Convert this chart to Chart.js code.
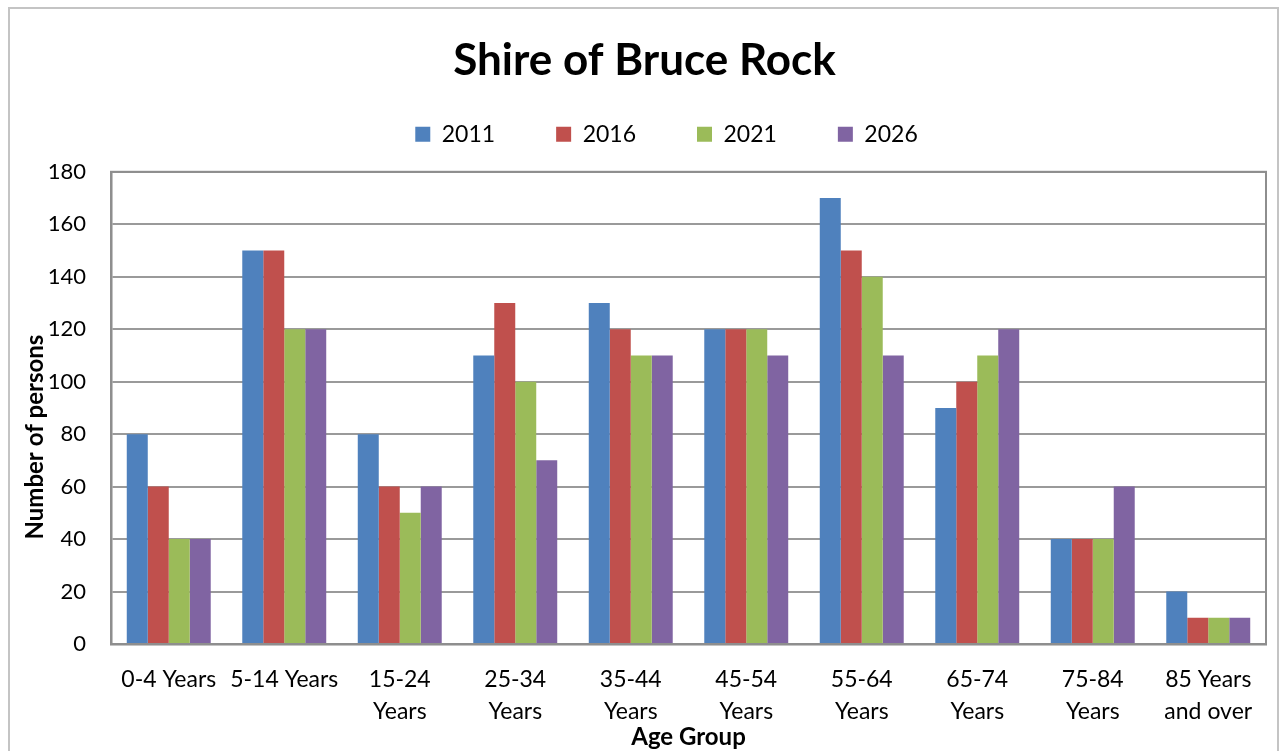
<!DOCTYPE html>
<html>
<head>
<meta charset="utf-8">
<script src="https://cdn.jsdelivr.net/npm/chart.js@4"></script>
<style>
  html, body { margin: 0; padding: 0; background: #fff; overflow: hidden; }
  #frame { position: absolute; left: 8px; top: 7px; width: 1267px; height: 780px; border: 2px solid #c4c4c4; }
  canvas { display: block; }
</style>
</head>
<body>
<div id="frame"><canvas id="myChart" width="1267" height="760"></canvas></div>
<script>
const ageGroups = [
  '0-4 Years', '5-14 Years', ['15-24', 'Years'], ['25-34', 'Years'], ['35-44', 'Years'],
  ['45-54', 'Years'], ['55-64', 'Years'], ['65-74', 'Years'], ['75-84', 'Years'], ['85 Years', 'and over']
];
const years = ['2011', '2016', '2021', '2026'];
const persons2011 = [80, 150, 80, 110, 130, 120, 170, 90, 40, 20];
const persons2016 = [60, 150, 60, 130, 120, 120, 150, 100, 40, 10];
const persons2021 = [40, 120, 50, 100, 110, 120, 140, 110, 40, 10];
const persons2026 = [40, 120, 60, 70, 110, 110, 110, 120, 60, 10];
const yTicks = [0, 20, 40, 60, 80, 100, 120, 140, 160, 180];

const colours = ['#4f81bd', '#c0504d', '#9bbb59', '#8064a2'];
const series = [persons2011, persons2016, persons2021, persons2026];

// box around the plot area (top/right edges too)
const plotFrame = {
  id: 'plotFrame',
  beforeDatasetsDraw(chart) {
    const {ctx, chartArea: a} = chart;
    ctx.save();
    ctx.strokeStyle = '#8e8e8e';
    ctx.lineWidth = 2;
    ctx.strokeRect(a.left, a.top, a.right - a.left, a.bottom - a.top);
    ctx.restore();
  }
};

// nudge legend to where it sits in the original
const legendShift = {
  id: 'legendShift',
  afterLayout(chart) {
    const l = chart.legend;
    l.left += 22; l.right += 22;
    l.top -= 25; l.bottom -= 25;
  }
};

const ctx = document.getElementById('myChart').getContext('2d');

new Chart(ctx, {
  type: 'bar',
  data: {
    labels: ageGroups,
    datasets: years.map((y, i) => ({
      label: y,
      data: series[i],
      backgroundColor: colours[i],
      borderWidth: 0,
      categoryPercentage: 0.727,
      barPercentage: 1
    }))
  },
  options: {
    responsive: false,
    animation: false,
    layout: { padding: { left: 13, right: 11, top: 0, bottom: 17 } },
    plugins: {
      title: {
        display: true,
        text: 'Shire of Bruce Rock',
        color: '#000',
        font: { family: 'Lato', size: 44, weight: 'bold' },
        padding: { top: 25, bottom: 0 }
      },
      legend: {
        display: true,
        position: 'top',
        maxHeight: 85,
        labels: {
          color: '#000',
          font: { family: 'Lato', size: 23 },
          boxWidth: 15,
          boxHeight: 15,
          padding: 61
        }
      },
      tooltip: { enabled: false }
    },
    scales: {
      x: {
        grid: { display: false },
        border: { display: true, color: '#888', width: 2.5 },
        ticks: {
          color: '#000',
          font: { family: 'Lato', size: 23, lineHeight: 1.39 },
          padding: 12,
          maxRotation: 0,
          autoSkip: false
        },
        title: {
          display: true,
          text: 'Age Group',
          color: '#000',
          font: { family: 'Lato', size: 24, weight: 'bold' },
          padding: { top: 0, bottom: 0 }
        },
        afterFit(scale) { scale.height = 108; }
      },
      y: {
        min: 0,
        max: 180,
        afterBuildTicks(scale) { scale.ticks = yTicks.map(v => ({ value: v })); },
        grid: { color: '#9a9a9a', lineWidth: 2, drawTicks: false },
        border: { display: true, color: '#888', width: 2.5 },
        ticks: {
          color: '#000',
          font: { family: 'Lato', size: 22 },
          padding: 25
        },
        title: {
          display: true,
          text: 'Number of persons          ',
          color: '#000',
          font: { family: 'Lato', size: 24, weight: 'bold' },
          padding: { top: -2, bottom: 0 }
        },
        afterFit(scale) { scale.width = 88; }
      }
    }
  },
  plugins: [plotFrame, legendShift]
});
</script>
</body>
</html>
